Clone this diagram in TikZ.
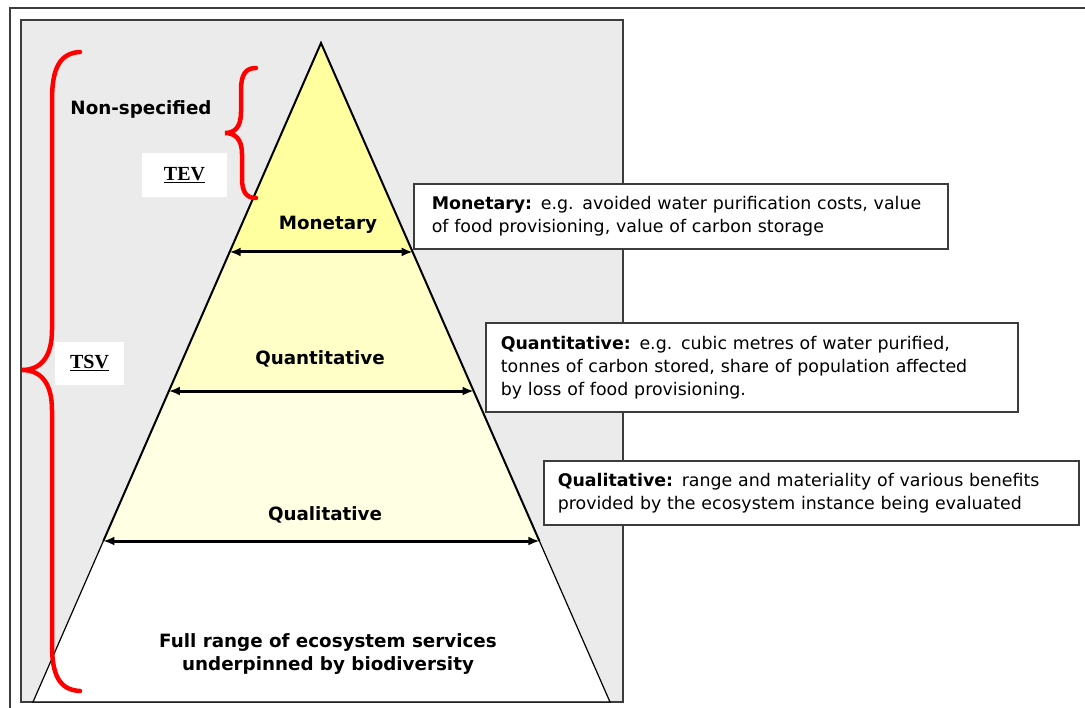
\documentclass[tikz,border=0pt]{standalone}
\usepackage{fontspec}
\usepackage{tikz}
\usetikzlibrary{calc, arrows.meta}
\newfontfamily\verd{DejaVu Sans}
\newfontfamily\tnr{Liberation Serif}
\definecolor{panelgrey}{RGB}{235,235,235}
\definecolor{framegrey}{RGB}{60,60,60}
\definecolor{topyellow}{RGB}{255,255,160}
\definecolor{midyellow}{RGB}{255,255,200}
\definecolor{lowyellow}{RGB}{255,255,228}
\tikzset{
	lbl/.style = {font = \verd\bfseries\fontsize{18.3}{23}\selectfont, align = center, inner sep = 0pt},
	tag/.style = {fill = white, font = \tnr\bfseries\fontsize{20}{22}\selectfont},
	callout/.style = {draw = framegrey, line width = 1.6pt, fill = white, anchor = north west,
		align = left, font = \verd\fontsize{17.4}{23}\selectfont, inner ysep = 0pt},
	dimarrow/.style = {line width = 3pt, {Latex[length = 11pt, width = 9pt]}-{Latex[length = 11pt, width = 9pt]}},
	brace/.style = {red, line width = 4.5pt, line cap = round}
}

\begin{document}
\begin{tikzpicture}[x = 1pt, y = -1pt]
				\useasboundingbox (0,0) rectangle (1085,708);
				
				% frames
				\draw[framegrey, line width = 1.8pt] (10,708) -- (10,8) -- (1085,8);
				\draw[framegrey, line width = 1.6pt, fill = panelgrey] (21,20) rectangle (623,702);
				
				% pyramid
				\coordinate (apex) at (321,43);
				\coordinate (bl) at (33,702);
				\coordinate (br) at (610,702);
				\coordinate (mL) at ($(apex)!0.3171!(bl)$);
				\coordinate (mR) at ($(apex)!0.3171!(br)$);
				\coordinate (qnL) at ($(apex)!0.5281!(bl)$);
				\coordinate (qnR) at ($(apex)!0.5281!(br)$);
				\coordinate (qlL) at ($(apex)!0.7557!(bl)$);
				\coordinate (qlR) at ($(apex)!0.7557!(br)$);
				
				\fill[white] (qlL) -- (qlR) -- (br) -- (bl) -- cycle;
				\fill[lowyellow] (qnL) -- (qnR) -- (qlR) -- (qlL) -- cycle;
				\fill[midyellow] (mL) -- (mR) -- (qnR) -- (qnL) -- cycle;
				\fill[topyellow] (apex) -- (mR) -- (mL) -- cycle;
				\draw[line width = 1.2pt] (qlL) -- (bl) -- (br) -- (qlR);
				\draw[line width = 2pt] (qlL) -- (apex) -- (qlR);
				
				\draw[dimarrow] (mL) -- (mR);
				\draw[dimarrow] (qnL) -- (qnR);
				\draw[dimarrow] (qlL) -- (qlR);
				
				\node (mon) at (328,225)[lbl]{Monetary};
				\node (quan) at (320,359)[lbl]{Quantitative};
				\node (qual) at (325,515)[lbl]{Qualitative};
				\node (full) at (328,654)[lbl]{Full range of ecosystem services\\underpinned by biodiversity};
				
				% braces
				\draw[brace] (80,52) .. controls (60,53) and (52,68) .. (52,100) -- (52,330)
					.. controls (52,358) and (40,370) .. (22,370)
					.. controls (40,370) and (52,382) .. (52,410) -- (52,645)
					.. controls (52,676) and (60,690) .. (80,691);
				\draw[brace] (256,68) .. controls (246,68) and (241,74) .. (241,90) -- (241,112)
					.. controls (241,128) and (234,133) .. (225,133)
					.. controls (234,133) and (242,138) .. (242,154) -- (242,178)
					.. controls (242,193) and (247,198) .. (256,198);
				
				\node (nonspec) at (141,109)[lbl]{Non-specified};
				\node (tev) at (184.5,175)[tag, minimum width = 85, minimum height = 44]{\underline{TEV}};
				\node (tsv) at (89.5,363.5)[tag, minimum width = 69, minimum height = 43]{\underline{TSV}};
				
				% explanations
				\node (monbox) at (413,183)[callout, minimum width = 534, minimum height = 65, text width = 498]
					{\textbf{Monetary:} e.g. avoided water purification costs, value\\of food provisioning, value of carbon storage};
				\node (quanbox) at (485,322)[callout, minimum width = 532, minimum height = 89, text width = 502]
					{\textbf{Quantitative:} e.g. cubic metres of water purified,\\tonnes of carbon stored, share of population affected\\by loss of food provisioning.};
				\node (qualbox) at (543,460)[callout, minimum width = 535, minimum height = 64, text width = 507]
					{\textbf{Qualitative:} range and materiality of various benefits\\provided by the ecosystem instance being evaluated};
			\end{tikzpicture}
\end{document}
